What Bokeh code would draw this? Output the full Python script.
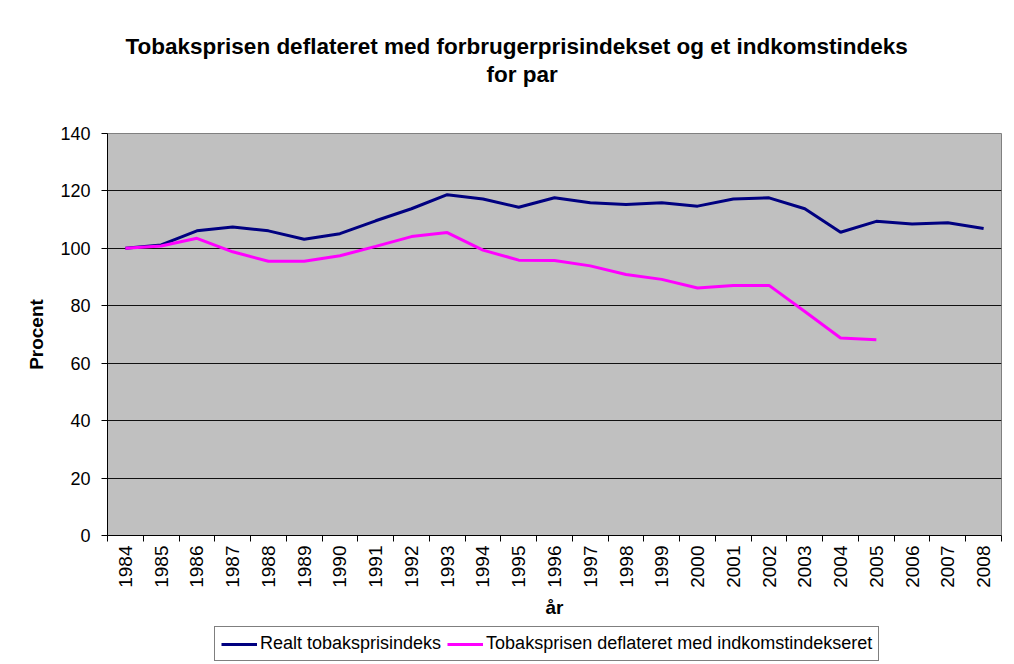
import math
from bokeh.plotting import figure
from bokeh.layouts import column
from bokeh.models import Range1d, FixedTicker, Legend, LegendItem, Title, ColumnDataSource
from bokeh.embed import file_html
from bokeh.resources import INLINE

years = ["1984", "1985", "1986", "1987", "1988", "1989", "1990", "1991", "1992",
         "1993", "1994", "1995", "1996", "1997", "1998", "1999", "2000", "2001",
         "2002", "2003", "2004", "2005", "2006", "2007", "2008"]
real_index = [100.0, 101.2, 106.1, 107.4, 106.1, 103.2, 105.1, 109.6, 113.8, 118.7,
              117.2, 114.3, 117.6, 115.9, 115.3, 115.9, 114.7, 117.2, 117.6, 113.8,
              105.6, 109.4, 108.5, 108.9, 106.9]
income_deflated = [100.0, 100.8, 103.5, 98.8, 95.5, 95.5, 97.4, 100.7, 104.1, 105.5,
                   99.4, 95.9, 95.8, 93.9, 90.9, 89.2, 86.2, 87.1, 87.1, 78.0,
                   68.8, 68.2]
y_ticks = [0, 20, 40, 60, 80, 100, 120, 140]
series_names = ["Realt tobaksprisindeks", "Tobaksprisen deflateret med indkomstindekseret"]
title_line1 = "Tobaksprisen deflateret med forbrugerprisindekset og et indkomstindeks"
title_line2 = "for par"

FONT = "Liberation Sans"
BLUE = "#000080"
MAGENTA = "#FF00FF"

pos = list(range(len(years)))
src_real = ColumnDataSource(dict(x=pos, y=real_index))
src_inc = ColumnDataSource(dict(x=pos[:len(income_deflated)], y=income_deflated))

p = figure(frame_width=894, frame_height=402, output_backend="svg", toolbar_location=None,
           x_range=Range1d(-0.5, len(years) - 0.5), y_range=Range1d(0, 140),
           min_border_left=107, min_border_right=12, min_border_top=133, min_border_bottom=87)

p.title.text = title_line1
p.title.align = "left"
p.title.offset = 18
p.title.text_font = FONT
p.title.text_font_size = "22.5px"
p.title.text_font_style = "bold"
p.title.text_color = "black"
p.title.standoff = 0
# empty spacer between the title and the plot area (closest to the frame)
p.add_layout(Title(text=" ", align="center", text_font=FONT,
                   text_font_size="40px", standoff=0), "above")
p.add_layout(Title(text=title_line2, align="left", offset=379, text_font=FONT,
                   text_color="black", text_font_size="22.5px", text_font_style="bold",
                   standoff=2), "above")

p.background_fill_color = "#C0C0C0"
p.border_fill_color = "white"
p.outline_line_color = "#808080"
p.outline_line_width = 1

p.xgrid.grid_line_color = None
p.ygrid.ticker = FixedTicker(ticks=y_ticks)
p.ygrid.grid_line_color = "#111111"
p.ygrid.grid_line_width = 1

# y axis
p.yaxis.ticker = FixedTicker(ticks=y_ticks)
p.yaxis.axis_label = "Procent"
p.yaxis.axis_label_text_font = FONT
p.yaxis.axis_label_text_font_size = "19px"
p.yaxis.axis_label_text_font_style = "bold"
p.yaxis.axis_label_text_color = "black"
p.yaxis.axis_label_standoff = 10
p.yaxis.major_label_text_font = FONT
p.yaxis.major_label_text_font_size = "18px"
p.yaxis.major_label_text_color = "black"
p.yaxis.axis_line_color = "black"
p.yaxis.major_tick_line_color = "black"
p.yaxis.major_tick_out = 6
p.yaxis.major_tick_in = 0
p.yaxis.minor_tick_line_color = None
p.yaxis.major_label_standoff = 11

# x axis
p.xaxis.ticker = FixedTicker(ticks=pos, minor_ticks=[i - 0.5 for i in range(len(years) + 1)])
p.xaxis.major_label_overrides = {i: y for i, y in enumerate(years)}
p.xaxis.major_label_orientation = math.pi / 2
p.xaxis.major_label_text_font = FONT
p.xaxis.major_label_text_font_size = "19px"
p.xaxis.major_label_text_color = "black"
p.xaxis.major_tick_line_color = None
p.xaxis.major_tick_out = 6
p.xaxis.major_tick_in = 0
p.xaxis.minor_tick_line_color = "black"
p.xaxis.minor_tick_out = 6
p.xaxis.minor_tick_in = 0
p.xaxis.major_label_standoff = 4
p.xaxis.axis_line_color = "black"
p.xaxis.axis_label = "år"
p.xaxis.axis_label_text_font = FONT
p.xaxis.axis_label_text_font_size = "19px"
p.xaxis.axis_label_text_font_style = "bold"
p.xaxis.axis_label_text_color = "black"
p.xaxis.axis_label_standoff = 6

p.line("x", "y", source=src_real, line_color=BLUE, line_width=3)
p.line("x", "y", source=src_inc, line_color=MAGENTA, line_width=3)

# legend strip below the chart (frame aligned with the chart's frame); the series
# are drawn here too but fall outside this strip's range, so only the legend shows
lf = figure(frame_width=894, frame_height=41, output_backend="svg", toolbar_location=None,
            x_axis_type=None, y_axis_type=None,
            min_border_left=107, min_border_right=12, min_border_top=0, min_border_bottom=0,
            x_range=Range1d(-0.5, len(years) - 0.5), y_range=Range1d(0, 1))
lf.outline_line_color = None
lf.background_fill_color = "white"
lf.border_fill_color = "white"
lf.grid.visible = False
lr1 = lf.line("x", "y", source=src_real, line_color=BLUE, line_width=3)
lr2 = lf.line("x", "y", source=src_inc, line_color=MAGENTA, line_width=3)

legend = Legend(items=[LegendItem(label=series_names[0], renderers=[lr1]),
                       LegendItem(label=series_names[1], renderers=[lr2])],
                orientation="horizontal", location=(107, 2))
legend.label_text_font = FONT
legend.label_text_font_size = "18px"
legend.label_text_color = "black"
legend.border_line_color = "black"
legend.border_line_width = 1
legend.background_fill_color = "white"
legend.background_fill_alpha = 1.0
legend.padding = 6
legend.spacing = 6
legend.glyph_width = 36
legend.glyph_height = 20
legend.label_standoff = 3
legend.margin = 0
lf.add_layout(legend, "center")

open("out.html", "w").write(file_html(column(p, lf, spacing=0), INLINE))
